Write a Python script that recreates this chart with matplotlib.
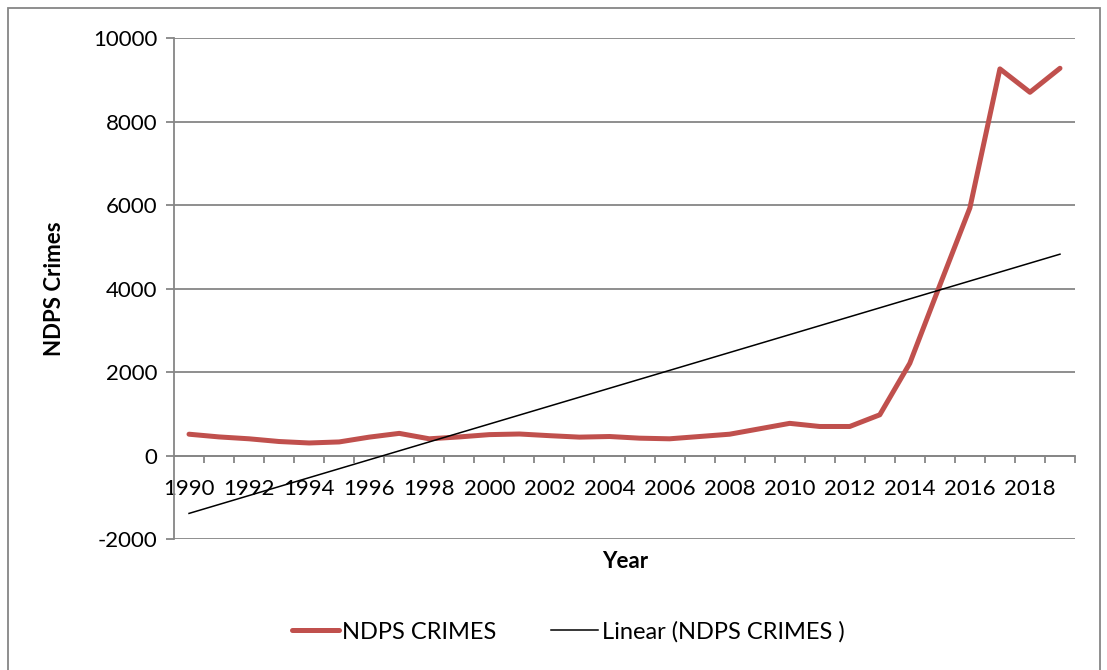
import numpy as np
import matplotlib.pyplot as plt
from matplotlib.patches import Rectangle
from matplotlib.ticker import FixedLocator, NullFormatter

plt.rcParams['font.family'] = ['Lato', 'DejaVu Sans']
plt.rcParams['axes.unicode_minus'] = False

years = list(range(1990, 2020))
crimes = [510, 445, 400, 335, 300, 325, 440, 530, 400, 445,
          500, 515, 475, 440, 455, 415, 400, 455, 510, 640,
          770, 695, 695, 975, 2210, 4080, 5930, 9260, 8700, 9275]
year_labels = [str(y) if (y - 1990) % 2 == 0 else '' for y in years]
y_ticks = [-2000, 0, 2000, 4000, 6000, 8000, 10000]

# linear trend like excel
coef = np.polyfit(years, crimes, 1)
trend = np.polyval(coef, years)

fig = plt.figure(figsize=(11.07, 6.7), dpi=100)
ax = fig.add_axes([174 / 1107, 1 - 539 / 670, (1075 - 174) / 1107, (539 - 38) / 670])

ax.plot(years, crimes, color='#C0504D', linewidth=3.6, solid_capstyle='round',
        label='NDPS CRIMES', zorder=3)
ax.plot(years, trend, color='black', linewidth=1.1, label='Linear (NDPS CRIMES )', zorder=4)

ax.set_xlim(1989.5, 2019.5)
ax.set_ylim(-2000, 10000)
ax.set_yticks(y_ticks)
ax.yaxis.grid(True, color='#868686', linewidth=1.3)
ax.set_axisbelow(True)
ax.tick_params(axis='y', length=6, width=1.3, color='#868686', labelsize=16, pad=6)

for side in ['top', 'right']:
    ax.spines[side].set_visible(False)
ax.spines['left'].set_color('#868686')
ax.spines['left'].set_linewidth(1.3)
ax.spines['bottom'].set_position(('data', 0))
ax.spines['bottom'].set_color('#868686')
ax.spines['bottom'].set_linewidth(1.3)

ax.set_xticks(years)
ax.set_xticklabels(year_labels)
ax.xaxis.set_minor_locator(FixedLocator([y + 0.5 for y in years]))
ax.xaxis.set_minor_formatter(NullFormatter())
ax.tick_params(axis='x', which='major', length=0, labelsize=16, pad=17)
ax.tick_params(axis='x', which='minor', length=5, width=1.3, color='#868686')

ax.set_ylabel('NDPS Crimes', fontsize=16, fontweight='bold', labelpad=20)
fig.text(625 / 1107, 1 - 561 / 670, 'Year', fontsize=16, fontweight='bold',
         ha='center', va='center')

fig.legend(loc='center', bbox_to_anchor=(568 / 1107, 1 - 632 / 670), ncol=2,
           frameon=False, fontsize=17, handlelength=2.0, columnspacing=2.3,
           handletextpad=0.15)

fig.patches.append(Rectangle((8 / 1107, -0.01), (1100 - 8) / 1107, 1 - 8 / 670 + 0.01,
                             transform=fig.transFigure, fill=False,
                             edgecolor='#868686', linewidth=1.3))

fig.savefig('out.png', dpi=100)
